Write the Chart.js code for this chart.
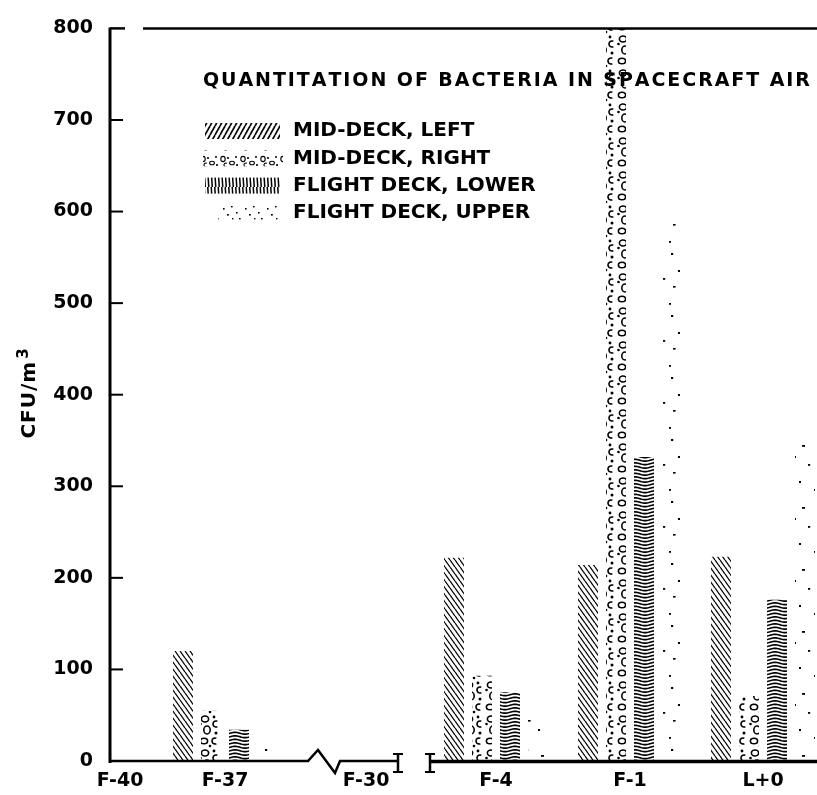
<!DOCTYPE html>
<html>
<head>
<meta charset="utf-8">
<script src="https://cdn.jsdelivr.net/npm/chart.js@4.4.0/dist/chart.umd.min.js"></script>
<style>
  html, body { margin: 0; padding: 0; background: #fff; }
  #wrap { width: 817px; height: 795px; }
</style>
</head>
<body>
<div id="wrap"><canvas id="chart"></canvas></div>
<script>
// sampling days on the broken time axis
const categories = ['F-40', 'F-37', 'F-30', 'F-4', 'F-1', 'L+0'];
// where each day sits on the compressed axis (the axis is schematic, not to scale)
const axisPos = [1.0, 11.5, 25.6, 38.6, 52.0, 65.3];

// CFU/m3 by location, null = not sampled
const midDeckLeft  = [null, 120, null, 222, 214, 223];
const midDeckRight = [null, 55, null, 93, 800, 71];
const flightLower  = [null, 34, null, 75, 332, 176];
const flightUpper  = [null, 17, null, 46, 590, 352];

const seriesLabels = ['MID-DECK, LEFT', 'MID-DECK, RIGHT', 'FLIGHT DECK, LOWER', 'FLIGHT DECK, UPPER'];
const yTicks = [0, 100, 200, 300, 400, 500, 600, 700, 800];

const FONT = '"DejaVu Sans", "Liberation Sans", sans-serif';
const canvas = document.getElementById('chart');
const mainCtx = canvas.getContext('2d');

// little repeating tiles for the black & white fills
function tile(w, h, draw) {
  const c = document.createElement('canvas');
  c.width = w; c.height = h;
  const g = c.getContext('2d');
  g.strokeStyle = '#000';
  g.fillStyle = '#000';
  draw(g, w, h);
  return mainCtx.createPattern(c, 'repeat');
}
function ring(g, x, y, rx, ry) {
  g.beginPath(); g.ellipse(x, y, rx, ry, 0, 0, Math.PI * 2); g.stroke();
}
function dot(g, x, y, r) {
  g.beginPath(); g.arc(x, y, r, 0, Math.PI * 2); g.fill();
}
function cee(g, x, y, r) {
  g.beginPath(); g.arc(x, y, r, 0.35 * Math.PI, 1.65 * Math.PI); g.stroke();
}

const hatchBar = tile(5, 7, (g, w, h) => {
  g.lineWidth = 1.25;
  for (const dx of [-w, 0, w]) {
    g.beginPath(); g.moveTo(dx, 0); g.lineTo(dx + w, h); g.stroke();
  }
});
const hatchKey = tile(5, 9, (g, w, h) => {
  g.lineWidth = 1.7;
  for (const dx of [-w, 0, w]) {
    g.beginPath(); g.moveTo(dx, h); g.lineTo(dx + w, 0); g.stroke();
  }
});
const bubbleBar = tile(22, 34, g => {
  g.lineWidth = 1.6;
  ring(g, 7, 5, 3.6, 3.0);
  dot(g, 16, 3, 1.4);
  cee(g, 18, 10, 3.0);
  ring(g, 9, 16, 3.2, 4.0);
  dot(g, 2.5, 10, 1.3);
  dot(g, 18, 19, 1.5);
  ring(g, 6, 27, 3.6, 2.8);
  cee(g, 17, 27, 3.0);
  dot(g, 12, 32, 1.3);
});
const bubbleKey = tile(20, 17, g => {
  g.lineWidth = 1.1;
  ring(g, 3, 6, 2.2, 2.6);
  dot(g, 8, 5, 1.1);
  ring(g, 12, 10, 2.4, 1.8);
  dot(g, 16, 4, 1);
  dot(g, 17, 12, 1.1);
  cee(g, 6, 12, 2);
});
const waveBar = tile(20, 7, g => {
  g.lineWidth = 1.7;
  for (const y0 of [1.75, 5.25]) {
    g.beginPath();
    for (let x = -1; x <= 21; x++) {
      const y = y0 + 0.9 * Math.sin(x / 20 * Math.PI * 2);
      if (x === -1) g.moveTo(x, y); else g.lineTo(x, y);
    }
    g.stroke();
  }
});
const waveKey = tile(7, 17, g => {
  g.lineWidth = 1.5;
  for (const x0 of [1.75, 5.25]) {
    g.beginPath(); g.moveTo(x0 - 0.5, 0); g.lineTo(x0 + 0.5, 17); g.stroke();
  }
});
// sparse, uneven specks
const speckBar = tile(29, 62, g => {
  g.fillRect(4, 5, 2.2, 2);
  g.fillRect(19, 11, 3, 1.8);
  g.fillRect(11, 22, 2, 2);
  g.fillRect(25, 30, 2.2, 1.8);
  g.fillRect(6, 38, 2.6, 1.6);
  g.fillRect(16, 47, 2, 2);
  g.fillRect(2, 55, 2, 1.8);
});
const speckKey = tile(22, 17, g => {
  g.fillRect(3, 4, 1.6, 1.6);
  g.fillRect(11, 2, 1.6, 1.4);
  g.fillRect(7, 10, 1.8, 1.6);
  g.fillRect(16, 8, 1.6, 1.6);
  g.fillRect(19, 14, 1.6, 1.4);
  g.fillRect(12, 14, 1.4, 1.4);
});

const seriesValues = [midDeckLeft, midDeckRight, flightLower, flightUpper];
const barFills = [hatchBar, bubbleBar, waveBar, speckBar];
const keyFills = [hatchKey, bubbleKey, waveKey, speckKey];

function spacedWidth(ctx, text, spacing) {
  let w = 0;
  for (const ch of text) w += ctx.measureText(ch).width + spacing;
  return w - spacing;
}
function spacedText(ctx, text, x, y, spacing) {
  for (const ch of text) {
    ctx.fillText(ch, x, y);
    x += ctx.measureText(ch).width + spacing;
  }
  return x;
}

// axis lines with the break marks, inward ticks, title, key and y title
const decorations = {
  id: 'decorations',
  afterDatasetsDraw(chart) {
    const ctx = chart.ctx;
    const xs = chart.scales.x, ys = chart.scales.y;
    const px = v => xs.getPixelForValue(v);
    const { left, right, top } = chart.chartArea;
    const base = ys.getPixelForValue(0);
    const line = (x1, y1, x2, y2) => { ctx.beginPath(); ctx.moveTo(x1, y1); ctx.lineTo(x2, y2); ctx.stroke(); };

    ctx.save();
    ctx.strokeStyle = '#000';
    ctx.fillStyle = '#000';

    // y axis + inward ticks
    ctx.lineWidth = 3;
    line(left, top - 1, left, base + 2);
    ctx.lineWidth = 2;
    yTicks.slice(1, -1).forEach(v => {
      const y = ys.getPixelForValue(v);
      line(left, y, left + 13, y);
    });

    // top frame line (has a small gap near the corner)
    ctx.lineWidth = 2.5;
    line(left, top, px(1.5), top);
    line(px(3.3), top, right, top);

    // x axis with zigzag break and the two end caps
    ctx.lineWidth = 2.5;
    ctx.lineJoin = 'miter';
    ctx.beginPath();
    ctx.moveTo(left, base);
    ctx.lineTo(px(19.8), base);
    ctx.lineTo(px(20.8), base - 11);
    ctx.lineTo(px(22.5), base + 12);
    ctx.lineTo(px(23.0), base);
    ctx.lineTo(px(28.8), base);
    ctx.stroke();
    [28.8, 32.0].forEach(v => {
      const x = px(v);
      ctx.lineWidth = 2.5;
      line(x, base - 7, x, base + 11);
      ctx.lineWidth = 2;
      line(x - 5, base - 7, x + 5, base - 7);
      line(x - 5, base + 11, x + 5, base + 11);
    });
    ctx.lineWidth = 3.5;
    line(px(32.0), base + 0.5, right, base + 0.5);

    // title inside the plot
    ctx.font = 'bold 19px ' + FONT;
    ctx.textBaseline = 'middle';
    ctx.textAlign = 'left';
    const title = 'QUANTITATION OF BACTERIA IN SPACECRAFT AIR';
    const natural = spacedWidth(ctx, title, 0);
    const sp = (607 - natural) / (title.length - 1);
    spacedText(ctx, title, 203, 81, sp);

    // key
    const swatch = [[205, 75], [203, 80], [205, 75], [218, 62]];
    ctx.font = 'bold 20px ' + FONT;
    chart.data.datasets.forEach((ds, i) => {
      const cy = 131 + i * 27.3;
      ctx.fillStyle = keyFills[i];
      ctx.fillRect(swatch[i][0], cy - 8, swatch[i][1], 16);
      ctx.fillStyle = '#000';
      ctx.fillText(ds.label, 293, cy);
    });

    // y axis title, CFU/m3 with raised 3
    ctx.translate(30, 394);
    ctx.rotate(-Math.PI / 2);
    ctx.font = 'bold 20px ' + FONT;
    const w1 = spacedWidth(ctx, 'CFU/m', 1);
    ctx.font = 'bold 15px ' + FONT;
    const w3 = ctx.measureText('3').width;
    let x = -(w1 + 2 + w3) / 2;
    ctx.font = 'bold 20px ' + FONT;
    x = spacedText(ctx, 'CFU/m', x, 0, 1);
    ctx.font = 'bold 15px ' + FONT;
    ctx.fillText('3', x + 2, -6);

    ctx.restore();
  }
};

const tickFont = { family: FONT, size: 19, weight: 'bold' };

new Chart(canvas, {
  type: 'bar',
  data: {
    datasets: seriesLabels.map((label, i) => ({
      label,
      data: categories.map((c, j) => ({ x: axisPos[j], y: seriesValues[i][j] })),
      backgroundColor: barFills[i],
      borderWidth: 0,
      barPercentage: 0.714,
      categoryPercentage: 1.067
    }))
  },
  options: {
    responsive: true,
    maintainAspectRatio: false,
    animation: false,
    layout: { padding: { top: 21, left: 0, right: 0, bottom: 0 } },
    plugins: {
      legend: { display: false },
      tooltip: { enabled: false },
      title: { display: false }
    },
    scales: {
      x: {
        type: 'linear',
        min: 0,
        max: 70.7,
        offset: false,
        grid: { display: false, drawTicks: false },
        border: { display: false },
        afterBuildTicks: s => { s.ticks = axisPos.map(v => ({ value: v })); },
        afterFit: s => { s.height = 34; },
        ticks: {
          autoSkip: false,
          maxRotation: 0,
          padding: 9,
          color: '#000',
          font: tickFont,
          callback: (v, i) => categories[i]
        }
      },
      y: {
        min: 0,
        max: 800,
        grid: { display: false, drawTicks: false },
        border: { display: false },
        afterFit: s => { s.width = 110; },
        ticks: {
          stepSize: 100,
          padding: 17,
          color: '#000',
          font: tickFont
        }
      }
    }
  },
  plugins: [decorations]
});
</script>
</body>
</html>
